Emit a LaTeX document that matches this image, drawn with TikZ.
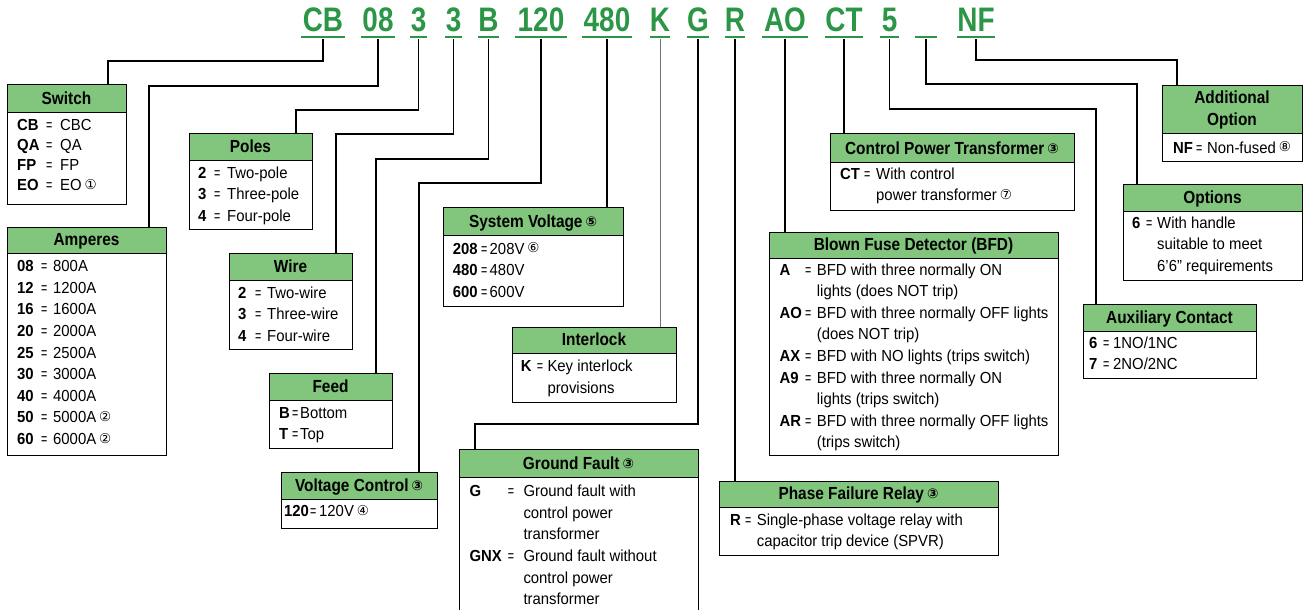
\documentclass[tikz,border=0pt]{standalone}
\usepackage{fontspec}
\setmainfont{Liberation Sans}[FakeStretch=0.93]
\newfontfamily\hdrfont{Liberation Sans}[FakeStretch=0.88]
\newfontfamily\codefont{Liberation Sans}[FakeStretch=0.82]
\newfontfamily\dvfont{DejaVu Sans}
\definecolor{codegreen}{RGB}{42,150,70}
\definecolor{hdrgreen}{RGB}{130,197,125}
\newlength\colA \newlength\colB
\newcommand\En[2]{\makebox[\colA][l]{\bfseries #1}\makebox[\colB][l]{\hspace{1pt}\scalebox{0.72}[1]{=}}#2}
\newcommand\Cn[1]{\hspace*{\dimexpr\colA+\colB\relax}#1}
\newcommand\btab[3]{\setlength\colA{#1}\setlength\colB{#2}\begin{tabular}[t]{@{}l@{}}#3\end{tabular}}
\newcommand\cnum[1]{\hspace{3pt}\raisebox{1.5pt}{\dvfont\fontsize{13.5}{13.5}\selectfont #1}}
\tikzset{
  connline/.style={line width=1.8pt},
  kline/.style={line width=1pt, draw=black!55},
  uline/.style={draw=codegreen, line width=2pt},
  boxnode/.style={draw, line width=1pt, inner sep=0pt, outer sep=0pt},
  hdrtext/.style={font=\hdrfont\bfseries\fontsize{17.5}{21.7}\selectfont, inner sep=0pt},
  bodytext/.style={font=\fontsize{16}{21.6}\selectfont, inner sep=0pt, anchor=base west},
  codetxt/.style={font=\codefont\bfseries\fontsize{34}{34}\selectfont, text=codegreen, inner xsep=0pt, inner ysep=5pt, text height=25pt, text depth=0pt, anchor=base}
}
\newcommand\mybox[7]{%
  \fill[hdrgreen] (#2,#3) rectangle (#5,#4);
  \draw[line width=1pt] (#2,#4) -- (#5,#4);
  \pgfmathsetmacro\bw{#5-#2}\pgfmathsetmacro\bh{#6-#3}%
  \node[boxnode, minimum width=\bw pt, minimum height=\bh pt, anchor=north west] (#1) at (#2,#3) {};
  \node[hdrtext, anchor=base] (#1h) at ({(#2+#5)/2},{#4-7.5}) {#7};
}
\begin{document}
\begin{tikzpicture}[x=1pt,y=-1pt]
\useasboundingbox (0,0) rectangle (1304,610);

% code letters
\node[codetxt, minimum width=43pt] (cCB) at (323,32) {CB};
\node[codetxt, minimum width=34pt] (c08) at (378,32) {08};
\node[codetxt, minimum width=17pt] (cP) at (418.5,32) {3};
\node[codetxt, minimum width=17pt] (cW) at (453.5,32) {3};
\node[codetxt, minimum width=21pt] (cB) at (488.5,32) {B};
\node[codetxt, minimum width=51pt] (c120) at (541,32) {120};
\node[codetxt, minimum width=49pt] (c480) at (607,32) {480};
\node[codetxt, minimum width=19pt] (cK) at (660,32) {K};
\node[codetxt, minimum width=22pt] (cG) at (698,32) {G};
\node[codetxt, minimum width=20pt] (cR) at (735,32) {R};
\node[codetxt, minimum width=45pt] (cAO) at (785,32) {AO};
\node[codetxt, minimum width=34pt] (cCT) at (844,32) {CT};
\node[codetxt, minimum width=18pt] (c5) at (889.5,32) {5};
\node[codetxt, minimum width=21pt] (cU) at (926,32) {};
\node[codetxt, minimum width=38pt] (cNF) at (976,32) {NF};
\foreach \n in {cCB,c08,cP,cW,cB,c120,c480,cK,cG,cR,cAO,cCT,c5,cU,cNF}
  \draw[uline] (\n.south west) -- (\n.south east);

% boxes
\mybox{sw}{7}{85}{112}{126}{204}{Switch}
\mybox{amp}{7}{227}{253}{166}{455}{Amperes}
\mybox{pol}{189}{133}{160}{312}{229}{Poles}
\mybox{wir}{229}{253}{280}{352}{349}{Wire}
\mybox{fee}{269}{373}{400}{392}{448}{Feed}
\mybox{vc}{281}{472}{499}{437}{528}{Voltage Control\cnum{③}}
\mybox{sv}{443}{207}{235}{623}{306}{System Voltage\cnum{⑤}}
\mybox{il}{512}{327}{353}{676}{402}{Interlock}
\mybox{gf}{459}{449}{477}{698}{640}{Ground Fault\cnum{③}}
\mybox{pf}{719}{481}{507}{998}{555}{Phase Failure Relay\cnum{③}}
\mybox{bfd}{769}{232}{258}{1058}{455}{Blown Fuse Detector (BFD)}
\mybox{cpt}{830}{133}{162}{1074}{210}{Control Power Transformer\cnum{③}}
\mybox{aux}{1083}{304}{331}{1256}{378}{Auxiliary Contact}
\mybox{opt}{1123}{184}{211}{1302}{280}{Options}
\mybox{ao}{1162}{86}{133}{1302}{161}{\begin{tabular}[b]{@{}c@{}}Additional\\Option\end{tabular}}

% bodies
\node[bodytext, font=\fontsize{16}{20}\selectfont] (swb) at (17,130.7) {\btab{28pt}{15pt}{\En{CB}{CBC}\\\En{QA}{QA}\\\En{FP}{FP}\\\En{EO}{EO\cnum{①}}}};
\node[bodytext] (ampb) at (17,271.7) {\btab{23pt}{13pt}{\En{08}{800A}\\\En{12}{1200A}\\\En{16}{1600A}\\\En{20}{2000A}\\\En{25}{2500A}\\\En{30}{3000A}\\\En{40}{4000A}\\\En{50}{5000A\cnum{②}}\\\En{60}{6000A\cnum{②}}}};
\node[bodytext] (polb) at (198,178.3) {\btab{15pt}{14pt}{\En{2}{Two-pole}\\\En{3}{Three-pole}\\\En{4}{Four-pole}}};
\node[bodytext] (wirb) at (238,298.3) {\btab{16pt}{13pt}{\En{2}{Two-wire}\\\En{3}{Three-wire}\\\En{4}{Four-wire}}};
\node[bodytext] (feeb) at (279,418.3) {\btab{12pt}{9pt}{\En{B}{Bottom}\\\En{T}{Top}}};
\node[bodytext] (vcb) at (284,516.7) {\btab{25pt}{10pt}{\En{120}{120V\cnum{④}}}};
\node[bodytext] (svb) at (452.7,254) {\btab{27.3pt}{9.5pt}{\En{208}{208V\cnum{⑥}}\\\En{480}{480V}\\\En{600}{600V}}};
\node[bodytext] (ilb) at (520.7,371.7) {\btab{15pt}{11.6pt}{\En{K}{Key interlock}\\\Cn{provisions}}};
\node[bodytext] (gfb) at (469.3,496.7) {\btab{37.4pt}{16.6pt}{\En{G}{Ground fault with}\\\Cn{control power}\\\Cn{transformer}\\\En{GNX}{Ground fault without}\\\Cn{control power}\\\Cn{transformer}}};
\node[bodytext] (pfb) at (730,525) {\btab{14pt}{12.7pt}{\En{R}{Single-phase voltage relay with}\\\Cn{capacitor trip device (SPVR)}}};
\node[bodytext] (bfdb) at (779.3,275) {\btab{24.7pt}{12.7pt}{\En{A}{BFD with three normally ON}\\\Cn{lights (does NOT trip)}\\\En{AO}{BFD with three normally OFF lights}\\\Cn{(does NOT trip)}\\\En{AX}{BFD with NO lights (trips switch)}\\\En{A9}{BFD with three normally ON}\\\Cn{lights (trips switch)}\\\En{AR}{BFD with three normally OFF lights}\\\Cn{(trips switch)}}};
\node[bodytext] (cptb) at (840,179.3) {\btab{23pt}{13pt}{\En{CT}{With control}\\\Cn{power transformer\cnum{⑦}}}};
\node[bodytext] (auxb) at (1089,348.3) {\btab{13pt}{11pt}{\En{6}{1NO/1NC}\\\En{7}{2NO/2NC}}};
\node[bodytext] (optb) at (1132,228.3) {\btab{13pt}{12pt}{\En{6}{With handle}\\\Cn{suitable to meet}\\\Cn{6’6” requirements}}};
\node[bodytext] (aob) at (1173,153.3) {\btab{22pt}{12pt}{\En{NF}{Non-fused\cnum{⑧}}}};

% connectors
\draw[connline] ([yshift=-2pt]cCB.south) |- (108,61) -- (108,61 |- sw.north);
\draw[connline] ([yshift=-2pt]c08.south) |- (149,86) -- (149,86 |- amp.north);
\draw[connline] ([yshift=-2pt]cP.south) |- (296,110) -- (296,110 |- pol.north);
\draw[connline] ([yshift=-2pt]cW.south) |- (336,134) -- (336,134 |- wir.north);
\draw[connline] ([yshift=-2pt]cB.south) |- (376,159) -- (376,159 |- fee.north);
\draw[connline] ([yshift=-2pt]c120.south) |- (419,183) -- (419,183 |- vc.north);
\draw[connline] ([yshift=-2pt]c480.south) -- (c480.south |- sv.north);
\draw[kline] ([yshift=-2pt]cK.south) -- (cK.south |- il.north);
\draw[connline] ([yshift=-2pt]cG.south) |- (475,424) -- (475,424 |- gf.north);
\draw[connline] ([yshift=-2pt]cR.south) -- (cR.south |- pf.north);
\draw[connline] ([yshift=-2pt]cAO.south) -- (cAO.south |- bfd.north);
\draw[connline] ([yshift=-2pt]cCT.south) -- (cCT.south |- cpt.north);
\draw[connline] ([yshift=-2pt]c5.south) |- (1096,109) -- (1096,109 |- aux.north);
\draw[connline] ([yshift=-2pt]cU.south) |- (1137,84) -- (1137,84 |- opt.north);
\draw[connline] ([yshift=-2pt]cNF.south) |- (1177,60) -- (1177,60 |- ao.north);
\end{tikzpicture}
\end{document}
